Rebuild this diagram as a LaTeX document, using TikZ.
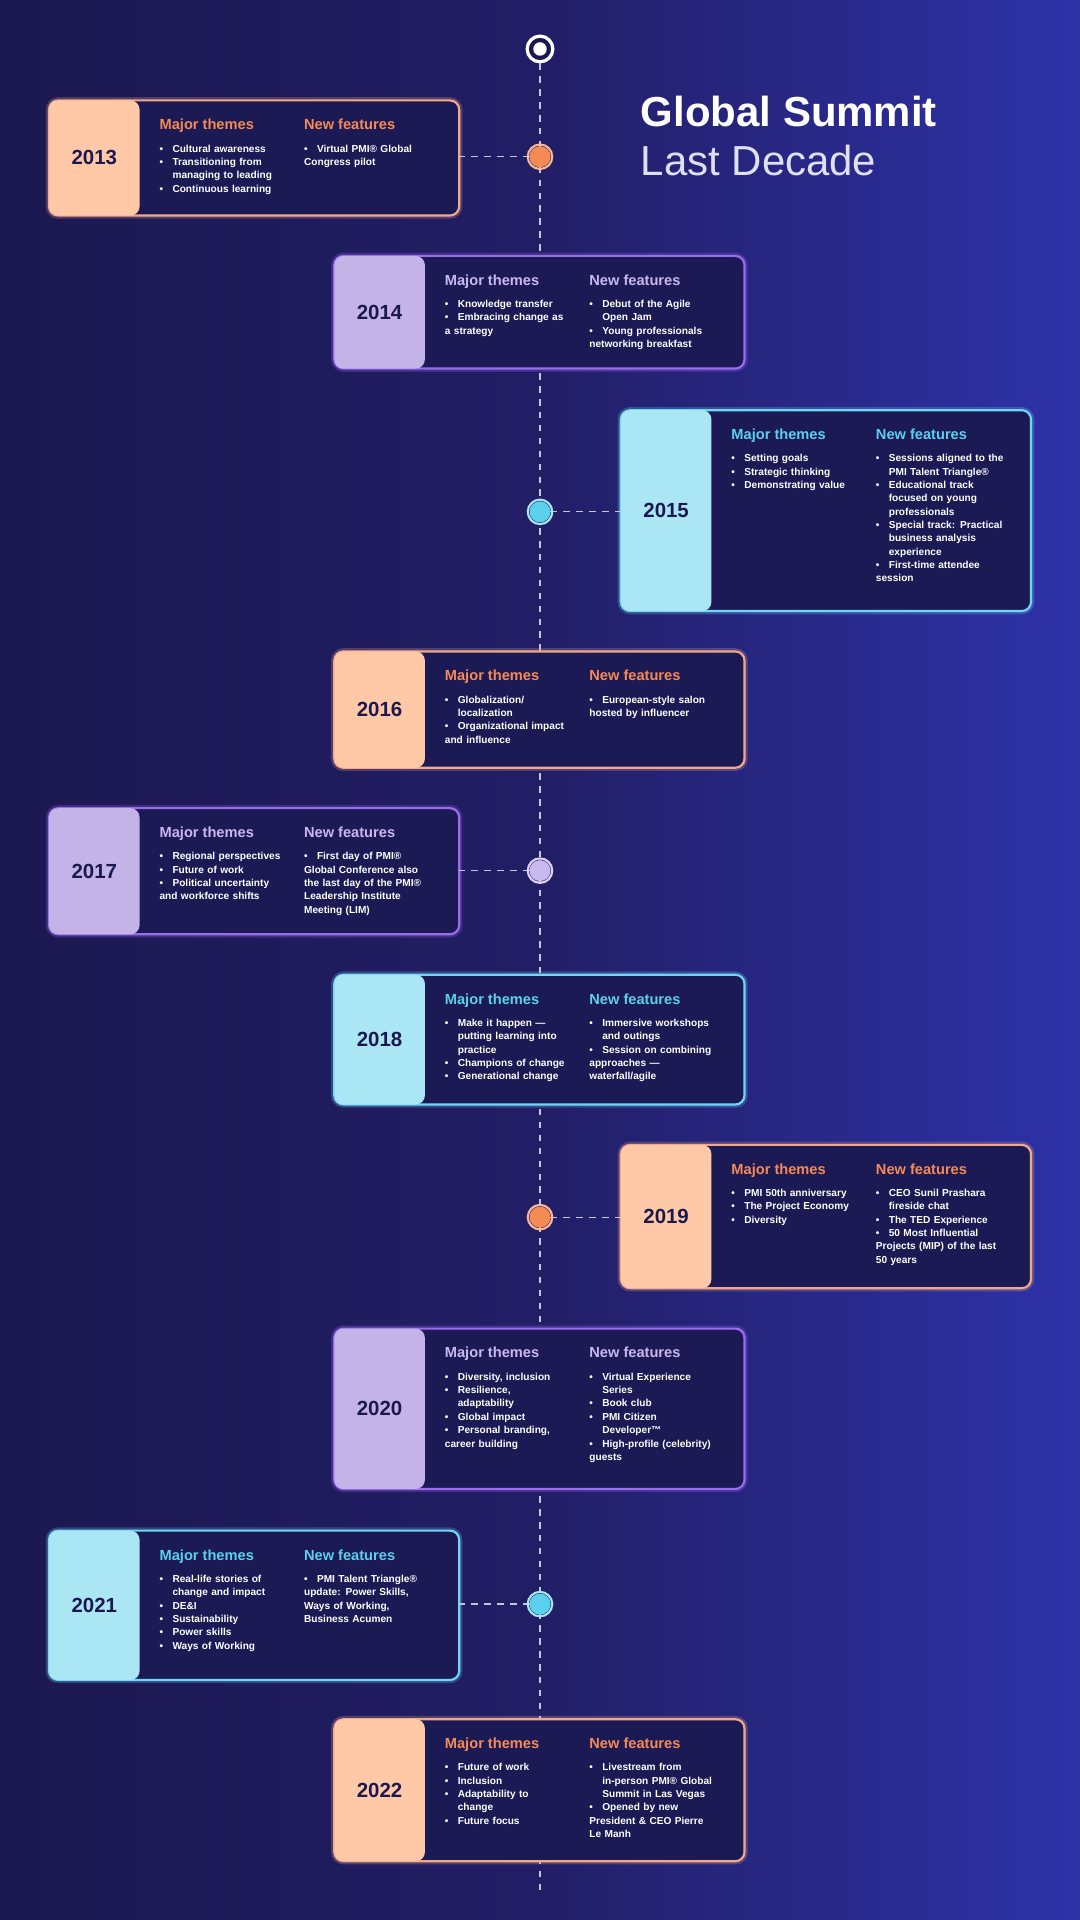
\documentclass[tikz,border=0pt]{standalone}
\usepackage{fontspec}
\setmainfont{Liberation Sans}
\usetikzlibrary{positioning}
\definecolor{bgdark}{HTML}{1B1850}
\definecolor{bgmid}{HTML}{221E66}
\definecolor{bgblue}{HTML}{2E32A8}
\definecolor{boxbg}{HTML}{1C1A55}
\definecolor{orfill}{HTML}{FFC9A8}
\definecolor{orline}{HTML}{F3A88A}
\definecolor{orhead}{HTML}{F58A55}
\definecolor{pufill}{HTML}{C4B3E6}
\definecolor{puline}{HTML}{9B6CF0}
\definecolor{puhead}{HTML}{C9B8EE}
\definecolor{cyfill}{HTML}{ABE6F5}
\definecolor{cyline}{HTML}{6FD6F5}
\definecolor{cyhead}{HTML}{5BD0EE}
\definecolor{orring}{HTML}{F9B899}
\definecolor{puring}{HTML}{DDD2F4}
\definecolor{cyring}{HTML}{A6E6F6}
\definecolor{yeartxt}{HTML}{1B1850}
\newcommand\bul[1]{\par\noindent\hangindent=6pt\hangafter=1\makebox[6pt][l]{•}#1}
\newcommand\itemfont{\bfseries\fontsize{4.7}{6.2}\selectfont\raggedright\hyphenpenalty=10000 \exhyphenpenalty=10000 }
\tikzset{
  item/.style={anchor=north west,inner sep=0pt,text width=2.0cm,text=white,font=\itemfont},
  head/.style={anchor=north west,inner sep=0pt,font=\bfseries\fontsize{6.8}{7}\selectfont},
  yeartag/.style={font=\bfseries\fontsize{9.5}{10}\selectfont,text=yeartxt},
  dot/.style={circle,draw=#1,line width=1.2pt,fill=#1,inner sep=0pt,minimum size=0.3cm},
  link/.style={dashed,draw=white!75!bgdark,line width=0.6pt}
}
% \yearbox{name}{left}{top}{bottom}{fill}{line}{head}{themes}{features}
\newcommand\yearbox[9]{%
  \draw[#6,line width=3pt,opacity=0.25,rounded corners=0.15cm] (#2,-#3) rectangle (#2+335,-#4);
  \draw[#6,line width=1pt,fill=boxbg,rounded corners=0.15cm] (#2,-#3) rectangle (#2+335,-#4);
  \fill[#5,rounded corners=0.15cm] (#2,-#3) rectangle (#2+74,-#4);
  \node[yeartag] (y#1) at (#2+37,{-(#3+#4)/2}) {#1};
  \node[head,text=#7] (mt#1) at (#2+90,-#3-15) {Major themes};
  \node[head,text=#7] (nf#1) at (#2+208,-#3-15) {New features};
  \node[item] (it#1) at (#2+90,-#3-31) {#8};
  \node[item,text width=2.1cm] (ft#1) at (#2+208,-#3-31) {#9};
}
\begin{document}
\begin{tikzpicture}[x=0.02cm,y=0.02cm]
 %background
 \shade[left color=bgdark,right color=bgblue,middle color=bgmid] (0,0) rectangle (882,-1568);
 \useasboundingbox (0,0) rectangle (882,-1568);

 %title
 \node[anchor=north west,inner sep=0pt,text=white,font=\bfseries\fontsize{19.5}{21}\selectfont] (title) at (523,-78) {Global Summit};
 \node[anchor=north west,inner sep=0pt,text=white!85!bgblue,font=\fontsize{19.5}{21}\selectfont] (subtitle) at (523,-118) {Last Decade};

 %timeline
 \node[circle,draw=white,line width=1.5pt,fill=bgdark,minimum size=0.42cm,inner sep=0pt] (top) at (441,-40) {};
 \node[circle,fill=white,minimum size=0.22cm,inner sep=0pt] at (top) {};
 \coordinate (bottom) at (441,-1545);
 \draw[link] (top) -- (bottom);

 %boxes
 \yearbox{2013}{40}{82}{176}{orfill}{orline}{orhead}
  {\bul{Cultural awareness}\bul{Transitioning from managing to leading}\bul{Continuous learning}}
  {\bul{Virtual PMI® Global Congress pilot}}
 \yearbox{2014}{273}{209}{301}{pufill}{puline}{puhead}
  {\bul{Knowledge transfer}\bul{Embracing change as a strategy}}
  {\bul{Debut of the Agile Open Jam}\bul{Young professionals networking breakfast}}
 \yearbox{2015}{507}{335}{499}{cyfill}{cyline}{cyhead}
  {\bul{Setting goals}\bul{Strategic thinking}\bul{Demonstrating value}}
  {\bul{Sessions aligned to the PMI Talent Triangle®}\bul{Educational track focused on young professionals}\bul{Special track: Practical business analysis experience}\bul{First-time attendee session}}
 \yearbox{2016}{273}{532}{627}{orfill}{orline}{orhead}
  {\bul{Globalization/ localization}\bul{Organizational impact and influence}}
  {\bul{European-style salon hosted by influencer}}
 \yearbox{2017}{40}{660}{763}{pufill}{puline}{puhead}
  {\bul{Regional perspectives}\bul{Future of work}\bul{Political uncertainty and workforce shifts}}
  {\bul{First day of PMI® Global Conference also the last day of the PMI® Leadership Institute Meeting (LIM)}}
 \yearbox{2018}{273}{796}{902}{cyfill}{cyline}{cyhead}
  {\bul{Make it happen — putting learning into practice}\bul{Champions of change}\bul{Generational change}}
  {\bul{Immersive workshops and outings}\bul{Session on combining approaches — waterfall/agile}}
 \yearbox{2019}{507}{935}{1052}{orfill}{orline}{orhead}
  {\bul{PMI 50th anniversary}\bul{The Project Economy}\bul{Diversity}}
  {\bul{CEO Sunil Prashara fireside chat}\bul{The TED Experience}\bul{50 Most Influential Projects (MIP) of the last 50 years}}
 \yearbox{2020}{273}{1085}{1216}{pufill}{puline}{puhead}
  {\bul{Diversity, inclusion}\bul{Resilience, adaptability}\bul{Global impact}\bul{Personal branding, career building}}
  {\bul{Virtual Experience Series}\bul{Book club}\bul{PMI Citizen Developer™}\bul{High-profile (celebrity) guests}}
 \yearbox{2021}{40}{1250}{1372}{cyfill}{cyline}{cyhead}
  {\bul{Real-life stories of change and impact}\bul{DE\&I}\bul{Sustainability}\bul{Power skills}\bul{Ways of Working}}
  {\bul{PMI Talent Triangle® update: Power Skills, Ways of Working, Business Acumen}}
 \yearbox{2022}{273}{1404}{1520}{orfill}{orline}{orhead}
  {\bul{Future of work}\bul{Inclusion}\bul{Adaptability to change}\bul{Future focus}}
  {\bul{Livestream from in-person PMI® Global Summit in Las Vegas}\bul{Opened by new President \& CEO Pierre Le Manh}}

 %dots and links
 \coordinate (e2013) at (375,-128);
 \coordinate (e2015) at (507,-418);
 \coordinate (e2017) at (375,-711);
 \coordinate (e2019) at (507,-994);
 \coordinate (e2021) at (375,-1310);
 \node[dot=orhead] (d2013) at (441,-128) {};
 \node[dot=cyhead] (d2015) at (441,-418) {};
 \node[dot=puhead] (d2017) at (441,-711) {};
 \node[dot=orhead] (d2019) at (441,-994) {};
 \node[dot=cyhead] (d2021) at (441,-1310) {};
 \foreach \yr in {2013,2015,2017,2019,2021}
   \draw[link] (d\yr) -- (e\yr);
 \draw[orring,line width=1pt] (d2013) circle (0.2cm);
 \draw[cyring,line width=1pt] (d2015) circle (0.2cm);
 \draw[puring,line width=1pt] (d2017) circle (0.2cm);
 \draw[orring,line width=1pt] (d2019) circle (0.2cm);
 \draw[cyring,line width=1pt] (d2021) circle (0.2cm);
\end{tikzpicture}
\end{document}
